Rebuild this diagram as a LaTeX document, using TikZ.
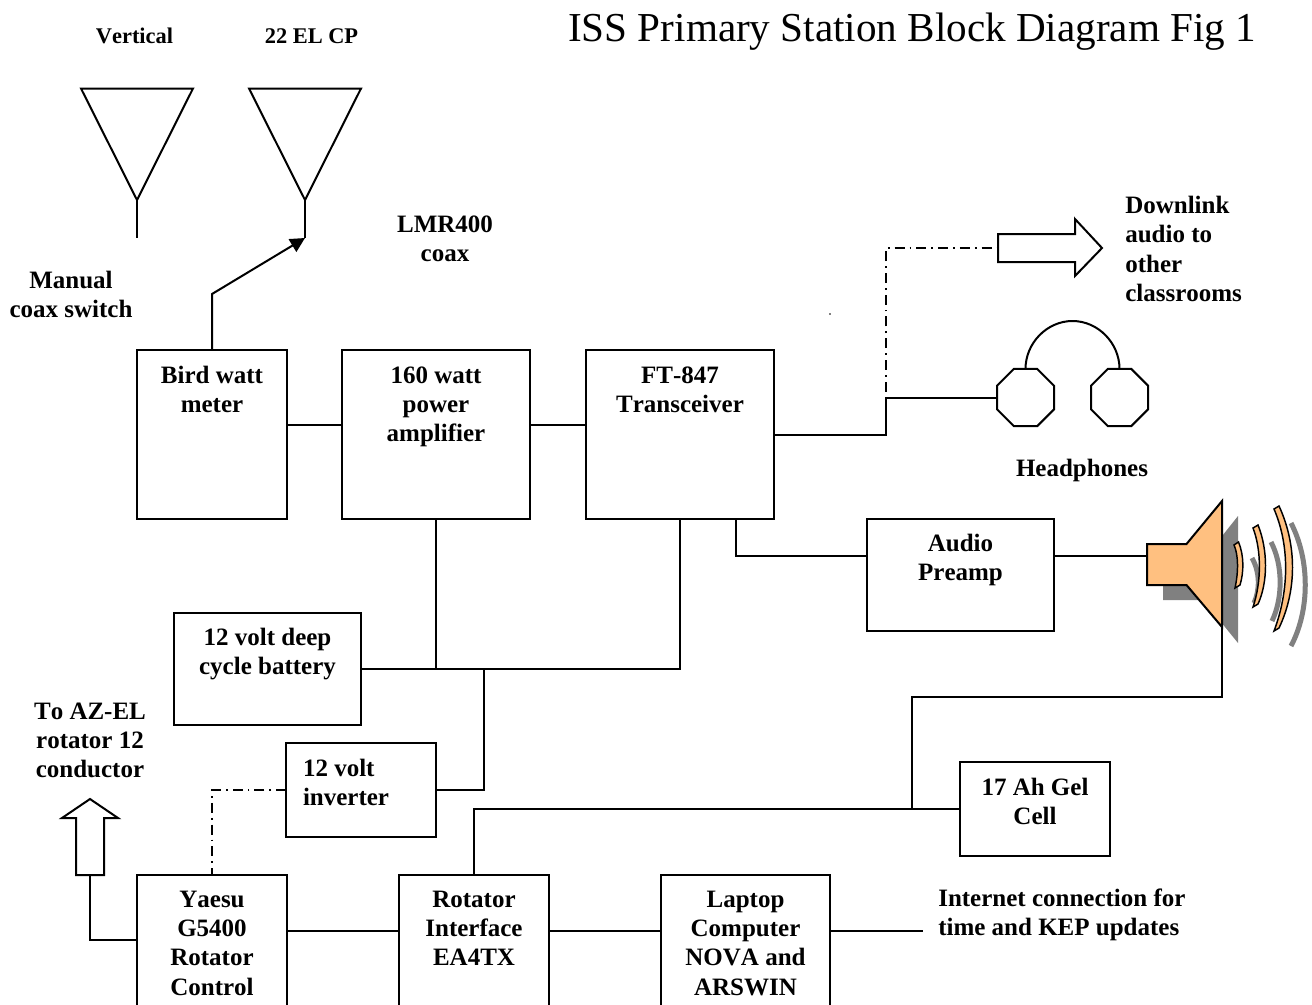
\documentclass[tikz,border=0pt]{standalone}
\usepackage{fontspec}
\setmainfont[Kerning=Off]{Liberation Serif}
\usetikzlibrary{arrows.meta,shapes.geometric}
\definecolor{spk}{HTML}{FFC080}
\definecolor{spkshadow}{HTML}{808080}
\newcommand\lblfont{\fontsize{18.75}{22}\selectfont\bfseries}
\tikzset{
  wire/.style={line width=1.5pt,line join=miter},
  dashwire/.style={line width=1.1pt,dash pattern=on 7.5pt off 3.75pt on 1.3pt off 3.75pt},
  blockbox/.style={draw,line width=1.5pt,inner sep=0pt,outer sep=0pt,anchor=north west},
  txt/.style={inner sep=0pt,font=\lblfont,execute at begin node=\strut,anchor=north},
  small/.style={inner sep=0pt,anchor=base,font=\fontsize{16.8}{20}\selectfont\bfseries},
  earcup/.style={draw,line width=1.5pt,regular polygon,regular polygon sides=8,minimum size=46.3pt,inner sep=0pt,outer sep=0pt},
  fatarrow/.style={draw,line width=1.5pt,fill=white},
  wave/.style={draw=black,line width=1.1pt,fill=spk,line join=miter},
  waveshadow/.style={draw=spkshadow,line width=3.75pt},
}
\def\blkgap{9.5pt}
% [alignment]{name}{left}{top}{width}{height}{text}
\newcommand\blk[6][\centering]{%
  \node[blockbox] (#2) at (#3,#4) {\parbox[t][\dimexpr#6pt*3/4\relax][t]{\dimexpr#5pt*3/4\relax}{%
  \lblfont#1\vspace*{\blkgap}\strut\blktext}};}
\begin{document}
\begin{tikzpicture}[x=0.75pt,y=-0.75pt]
\useasboundingbox (0,0) rectangle (1312,1004);
\fill[white] (0,0) rectangle (1312,1004);
\clip (0,0) rectangle (1312,1004);

% Title and top labels
\node[anchor=base west,inner sep=0pt,font=\fontsize{30.85}{34}\selectfont] (title) at (568,41) {ISS Primary Station Block Diagram Fig 1};
\node[small] (vert) at (134.5,43) {Vertical};
\node[small] (el22) at (311.5,43) {22 EL CP};

% Blocks
\def\blktext{Bird watt\\meter}\blk{bird}{137}{350}{150}{169}{}
\def\blktext{160 watt\\power\\amplifier}\blk{amp}{342}{350}{188}{169}{}
\def\blktext{FT-847\\Transceiver}\blk{ft}{586}{350}{188}{169}{}
\def\blkgap{8.75pt}
\def\blktext{Audio\\Preamp}\blk{pre}{867}{519}{187}{112}{}
\def\blktext{12 volt deep\\cycle battery}\blk{bat}{174}{613}{187}{112}{}
\def\blkgap{9.5pt}
\def\blktext{12 volt\\inverter}\blk[\raggedright\leftskip=12.75pt]{inv}{286}{743}{150}{94}{}
\def\blktext{17 Ah Gel\\Cell}\blk{gel}{960}{762}{150}{94}{}
\def\blkgap{8.75pt}
\def\blktext{Yaesu\\G5400\\Rotator\\Control}\blk{yaesu}{137}{875}{150}{160}{}
\def\blktext{Rotator\\Interface\\EA4TX}\blk{rot}{399}{875}{150}{160}{}
\def\blktext{Laptop\\Computer\\NOVA and\\ARSWIN}\blk{lap}{661}{875}{169}{160}{}

% Free labels
\node[txt,align=center] (lmr) at (445,215.5) {LMR400\\coax};
\node[txt,align=center] (manual) at (71,271) {Manual\\coax switch};
\node[txt,align=left,anchor=north west] (down) at (1125,196) {Downlink\\audio to\\other\\classrooms};
\node[txt] (head) at (1082,455.5) {Headphones};
\node[txt,align=center] (az) at (90,702.5) {To AZ-EL\\rotator 12\\conductor};
\node[txt,align=left,anchor=north west] (net) at (938,888.5) {Internet connection for\\time and KEP updates};

% Antennas
\coordinate (ant1) at (137,200);
\coordinate (ant2) at (305,200);
\coordinate (ant1end) at (137,238);
\coordinate (ant2end) at (305,238);
\draw[wire,line join=miter] (81,88.5) -- (193,88.5) -- (ant1) -- cycle;
\draw[wire,line join=miter] (249,88.5) -- (361,88.5) -- (ant2) -- cycle;
\draw[wire] (ant1) -- (ant1end);
\draw[wire] (ant2) -- (ant2end);
\coordinate (sw) at (212,294);
\draw[wire,-{Triangle[length=11pt,width=11pt]}] (bird.north |- 0,350) -- (sw) -- (ant2end);

% Main chain
\draw[wire] (bird.east |- 0,425) -- (amp.west |- 0,425);
\draw[wire] (amp.east |- 0,425) -- (ft.west |- 0,425);

% Headphones
\node[earcup] (cupl) at (1025.5,397.5) {};
\node[earcup] (cupr) at (1119.5,397.5) {};
\draw[wire] (cupl.north) .. controls (1025.5,343) and (1047,321) .. (1072.5,321) .. controls (1098,321) and (1119.5,343) .. (cupr.north);
\coordinate (tee) at (886,435);
\draw[wire] (ft.east |- tee) -- (tee) |- (cupl.west);

% Downlink arrow
\coordinate (dlbase) at (998,248);
\draw[fatarrow,line join=miter] (dlbase |- 0,234) -- (1075,234) -- (1075,219) -- (1102,248) -- (1075,276) -- (1075,262) -- (dlbase |- 0,262) -- cycle;
\draw[dashwire] (tee) -- (886,248) -- (dlbase);

% Speaker
\fill[spkshadow] (1163,560) -- (1203,560) -- (1238,516) -- (1238,643) -- (1203,600) -- (1163,600) -- cycle;
\draw[waveshadow] (1252,558) .. controls (1260,572) and (1260,590) .. (1254,603);
\draw[waveshadow] (1271,542) .. controls (1283,565) and (1283,598) .. (1272,621);
\draw[waveshadow] (1291,523) .. controls (1310,560) and (1310,610) .. (1291,646);
\draw[wave] (1238.5,542) .. controls (1244,555) and (1244,572) .. (1240,585) -- (1235,588) .. controls (1238.5,572) and (1238.5,555) .. (1234,545) -- cycle;
\draw[wave] (1258,525) .. controls (1268,550) and (1268,582) .. (1258,604) -- (1253,607) .. controls (1261.5,582) and (1261.5,550) .. (1253,528) -- cycle;
\draw[wave] (1279,506) .. controls (1297,545) and (1297,590) .. (1279,628) -- (1274,631) .. controls (1289.5,590) and (1289.5,545) .. (1274,509) -- cycle;
\coordinate (spkin) at (1147,556);
\coordinate (spkbot) at (1222,627);
\draw[wire,fill=spk,line join=miter] (1147,544) -- (1186.5,544) -- (1222,501) -- (spkbot) -- (1186.5,585) -- (1147,585) -- cycle;

% Audio path
\draw[wire] (ft.south -| 736,0) -- (736,556) -- (pre.west |- 0,556);
\draw[wire] (pre.east |- spkin) -- (spkin);

% Power
\coordinate (bus) at (484,669);
\draw[wire] (ft.south) |- (bat.east |- 0,669);
\draw[wire] (amp.south) -- (amp.south |- bus);
\draw[wire] (bus) |- (inv.east |- 0,790);
\draw[dashwire] (inv.west |- 0,790) -- (212,790) -- (yaesu.north);

% Rotator arrow
\coordinate (upbase) at (90,875);
\draw[wire] (yaesu.west |- 0,940) -- (90,940) -- (upbase);
\draw[fatarrow,line join=miter] (76,875) -- (76,818) -- (62,818) -- (90,799) -- (118,818) -- (104,818) -- (104,875) -- cycle;

% Bottom chain
\draw[wire] (yaesu.east |- 0,931) -- (rot.west |- 0,931);
\draw[wire] (rot.east |- 0,931) -- (lap.west |- 0,931);
\coordinate (netend) at (923,931);
\draw[wire] (lap.east |- 0,931) -- (netend);

% Gel cell
\coordinate (gj) at (912,809);
\draw[wire] (rot.north -| 474,0) -- (474,809) -- (gel.west |- gj);
\draw[wire] (gj) -- (912,697) -- (1222,697) -- (spkbot);

% stray dot
\fill (830,314) circle (0.8);
\end{tikzpicture}
\end{document}
